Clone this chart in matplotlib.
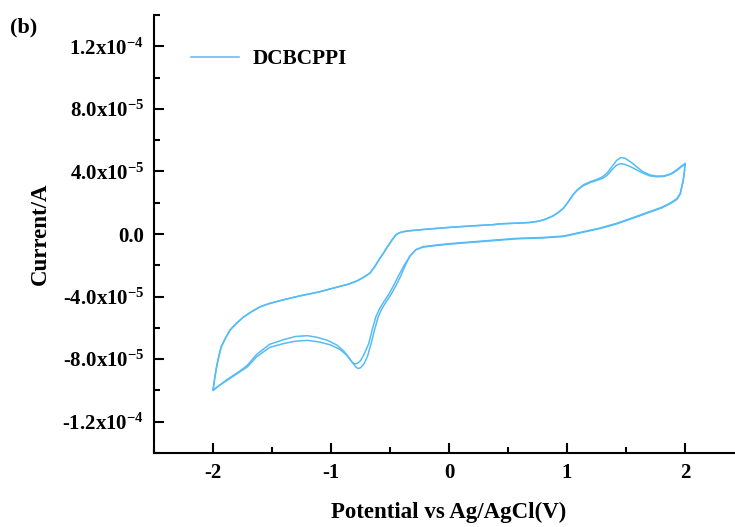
import matplotlib.pyplot as plt

plt.rcParams['font.family'] = 'Liberation Serif'
plt.rcParams['font.weight'] = 'bold'
plt.rcParams['axes.unicode_minus'] = False
plt.rcParams['mathtext.fontset'] = 'custom'
plt.rcParams['mathtext.rm'] = 'Liberation Serif:bold'
plt.rcParams['mathtext.it'] = 'Liberation Serif:bold'
plt.rcParams['mathtext.bf'] = 'Liberation Serif:bold'

# cyclic voltammogram, two scans, current in units of 1e-5 A
# each scan: +2 V down to -2 V (cathodic), then back up to +2 V
v1 = [2.00, 1.995, 1.985, 1.97, 1.96, 1.93, 1.87, 1.80, 1.70, 1.56, 1.42,
      1.28, 1.14, 1.05, 0.97, 0.80, 0.57, 0.40, 0.20, 0.00, -0.10, -0.22,
      -0.28, -0.33, -0.37, -0.41, -0.45, -0.49, -0.53, -0.57, -0.60, -0.63,
      -0.66, -0.69, -0.72, -0.75, -0.77, -0.79, -0.82, -0.86, -0.92, -1.00,
      -1.10, -1.20, -1.30, -1.40, -1.52, -1.63, -1.71, -1.77, -1.88, -1.95,
      -2.00,
      -1.985, -1.97, -1.95, -1.93, -1.89, -1.856, -1.80, -1.74, -1.67, -1.60,
      -1.52, -1.40, -1.26, -1.10, -0.95, -0.85, -0.78, -0.72, -0.67, -0.63,
      -0.59, -0.557, -0.52, -0.48, -0.45, -0.42, -0.38, -0.33, -0.20, 0.00,
      0.20, 0.38, 0.43, 0.60, 0.69, 0.76, 0.82, 0.88, 0.93, 0.97, 1.01, 1.05,
      1.09, 1.14, 1.20, 1.25, 1.30, 1.34, 1.38, 1.42, 1.455, 1.49, 1.54, 1.59,
      1.64, 1.70, 1.76, 1.82, 1.88, 1.93, 1.97, 2.00]
i1 = [4.5, 4.0, 3.46, 2.95, 2.6, 2.25, 1.96, 1.7, 1.43, 1.05, 0.68,
      0.38, 0.15, 0.0, -0.13, -0.22, -0.28, -0.38, -0.5, -0.62, -0.7, -0.81,
      -1.0, -1.4, -2.0, -2.7, -3.3, -3.85, -4.3, -4.8, -5.3, -6.1,
      -7.0, -7.8, -8.3, -8.55, -8.6, -8.5, -8.2, -7.8, -7.4, -7.1,
      -6.9, -6.8, -6.85, -7.0, -7.25, -7.85, -8.5, -8.8, -9.35, -9.7,
      -10.0,
      -9.2, -8.5, -7.8, -7.2, -6.6, -6.14, -5.7, -5.3, -4.95, -4.65,
      -4.44, -4.2, -3.95, -3.7, -3.4, -3.2, -3.0, -2.75, -2.5, -2.1,
      -1.6, -1.24, -0.8, -0.35, -0.05, 0.08, 0.16, 0.21, 0.3, 0.42,
      0.52, 0.6, 0.65, 0.7, 0.74, 0.82, 0.95, 1.15, 1.4, 1.65, 2.05, 2.5,
      2.85, 3.15, 3.35, 3.48, 3.65, 3.9, 4.3, 4.7, 4.88, 4.85, 4.6, 4.3,
      4.0, 3.78, 3.7, 3.71, 3.85, 4.1, 4.35, 4.5]

v2 = [2.00, 1.995, 1.985, 1.97, 1.96, 1.93, 1.87, 1.80, 1.70, 1.56, 1.42,
      1.28, 1.14, 1.05, 0.97, 0.80, 0.57, 0.40, 0.20, 0.00, -0.10, -0.22,
      -0.28, -0.33, -0.38, -0.43, -0.47, -0.51, -0.55, -0.59, -0.62, -0.65,
      -0.68, -0.72, -0.75, -0.78, -0.80, -0.82, -0.85, -0.89, -0.95, -1.03,
      -1.12, -1.20, -1.30, -1.40, -1.52, -1.63, -1.71, -1.77, -1.88, -1.95,
      -2.00,
      -1.985, -1.97, -1.95, -1.93, -1.89, -1.856, -1.80, -1.74, -1.67, -1.60,
      -1.52, -1.40, -1.26, -1.10, -0.95, -0.85, -0.78, -0.72, -0.67, -0.63,
      -0.59, -0.557, -0.52, -0.48, -0.45, -0.42, -0.38, -0.33, -0.20, 0.00,
      0.20, 0.38, 0.43, 0.60, 0.69, 0.76, 0.82, 0.88, 0.93, 0.97, 1.01, 1.05,
      1.09, 1.14, 1.20, 1.25, 1.30, 1.34, 1.38, 1.42, 1.455, 1.49, 1.54, 1.59,
      1.64, 1.70, 1.76, 1.82, 1.88, 1.93, 1.97, 2.00]
i2 = [4.45, 3.95, 3.4, 2.9, 2.55, 2.2, 1.92, 1.66, 1.39, 1.01, 0.64,
      0.35, 0.12, -0.03, -0.16, -0.25, -0.31, -0.41, -0.53, -0.65, -0.73, -0.84,
      -1.0, -1.4, -2.0, -2.7, -3.3, -3.85, -4.3, -4.8, -5.3, -6.1,
      -7.0, -7.7, -8.1, -8.28, -8.3, -8.2, -7.9, -7.5, -7.1, -6.8,
      -6.6, -6.5, -6.55, -6.75, -7.05, -7.7, -8.4, -8.75, -9.3, -9.7,
      -10.0,
      -9.2, -8.5, -7.8, -7.2, -6.6, -6.14, -5.7, -5.3, -4.95, -4.65,
      -4.44, -4.2, -3.95, -3.7, -3.4, -3.2, -3.0, -2.75, -2.5, -2.1,
      -1.6, -1.24, -0.8, -0.35, -0.05, 0.08, 0.16, 0.21, 0.3, 0.42,
      0.52, 0.6, 0.65, 0.7, 0.74, 0.82, 0.95, 1.15, 1.4, 1.65, 2.05, 2.5,
      2.82, 3.1, 3.3, 3.42, 3.55, 3.75, 4.1, 4.4, 4.5, 4.45, 4.3, 4.1,
      3.9, 3.72, 3.66, 3.68, 3.82, 4.05, 4.3, 4.45]

yticks = [-1.2e-4, -8e-5, -4e-5, 0, 4e-5, 8e-5, 1.2e-4]
ylabels = [r'-1.2x10$^{-4}$', r'-8.0x10$^{-5}$', r'-4.0x10$^{-5}$', '0.0',
           r'4.0x10$^{-5}$', r'8.0x10$^{-5}$', r'1.2x10$^{-4}$']
yminor = [-1.4e-4, -1e-4, -6e-5, -2e-5, 2e-5, 6e-5, 1e-4, 1.4e-4]
xticks = [-2, -1, 0, 1, 2]
xminor = [-2.5, -1.5, -0.5, 0.5, 1.5, 2.5]

col = '#56bcf5'

fig = plt.figure(figsize=(7.35, 5.27), dpi=100)
ax = fig.add_axes([154/735, 74/527, 590/735, 438/527])

ax.plot(v1, [i*1e-5 for i in i1], color=col, lw=1.1, label='DCBCPPI')
ax.plot(v2, [i*1e-5 for i in i2], color=col, lw=1.1)

ax.set_xlim(-2.5, 2.5)
ax.set_ylim(-1.4e-4, 1.4e-4)
ax.set_xticks(xticks)
ax.set_xticks(xminor, minor=True)
ax.set_yticks(yticks, ylabels)
ax.set_yticks(yminor, minor=True)

for s in ['top', 'right']:
    ax.spines[s].set_visible(False)
for s in ['left', 'bottom']:
    ax.spines[s].set_linewidth(1.5)

ax.tick_params(which='major', direction='in', length=7, width=1.5,
               labelsize=15, pad=7)
ax.tick_params(which='minor', direction='in', length=4, width=1.5)

ax.set_xlabel('Potential vs Ag/AgCl(V)', fontsize=16.5, fontweight='bold', labelpad=14)
ax.set_ylabel('Current/A', fontsize=16.5, fontweight='bold', labelpad=8)

ax.legend(loc='center left', bbox_to_anchor=(0.062, 0.899), frameon=False,
          borderaxespad=0, borderpad=0, fontsize=15.3,
          handlelength=2.3, handletextpad=0.6)

fig.text(0.013, 0.938, '(b)', fontsize=16, fontweight='bold')

fig.savefig('out.png', dpi=100)
